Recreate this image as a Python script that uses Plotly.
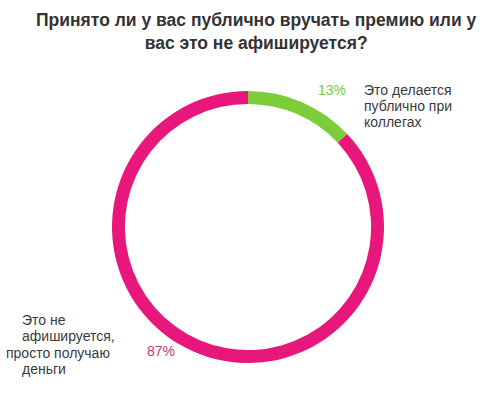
import plotly.graph_objects as go

labels = ["Это делается публично при коллегах", "Это не афишируется, просто получаю деньги"]
values = [13, 87]
pct_labels = ["13%", "87%"]
colors = ["#7DCD3A", "#E8177B"]
label_lines = [["Это делается", "публично при", "коллегах"],
               ["Это не", "афишируется,", "просто получаю", "деньги"]]
title = "Принято ли у вас публично вручать премию или у<br>вас это не афишируется?"

W, H = 500, 397
cx, cy, r = 248, 227, 136

fig = go.Figure(go.Pie(
    labels=labels, values=values, sort=False, direction="clockwise", rotation=0,
    hole=0.905, marker=dict(colors=colors, line=dict(width=0)),
    textinfo="none", hoverinfo="label+percent", showlegend=False,
    domain=dict(x=[(cx - r) / W, (cx + r) / W], y=[1 - (cy + r) / H, 1 - (cy - r) / H]),
))

font = "Liberation Sans, Arial, sans-serif"
def ann(x, y, text, color, size=14, xanchor="left"):
    fig.add_annotation(x=x / W, y=1 - y / H, xref="paper", yref="paper", text=text,
                       showarrow=False, xanchor=xanchor, yanchor="middle",
                       font=dict(family=font, size=size, color=color))

ann(332, 90, pct_labels[0], colors[0], xanchor="center")
for t, y in zip(label_lines[0], [90, 106, 122]):
    ann(362, y, t, "#3a3a3a")
ann(161, 351, pct_labels[1], "#C8357A", xanchor="center")
for t, x, y in zip(label_lines[1], [20, 20, 4, 20], [320, 336, 353, 369]):
    ann(x, y, t, "#3a3a3a")

fig.add_annotation(x=256 / W, y=1 - 32 / H, xref="paper", yref="paper",
                   text="<b>" + title + "</b>",
                   showarrow=False, xanchor="center", yanchor="middle", align="center",
                   font=dict(family=font, size=17.5, color="#333333"))

fig.update_layout(width=W, height=H, margin=dict(l=0, r=0, t=0, b=0),
                  paper_bgcolor="white", plot_bgcolor="white")
fig.write_html("out.html", config={"displayModeBar": False},
               post_script="document.body.style.margin='0';")
